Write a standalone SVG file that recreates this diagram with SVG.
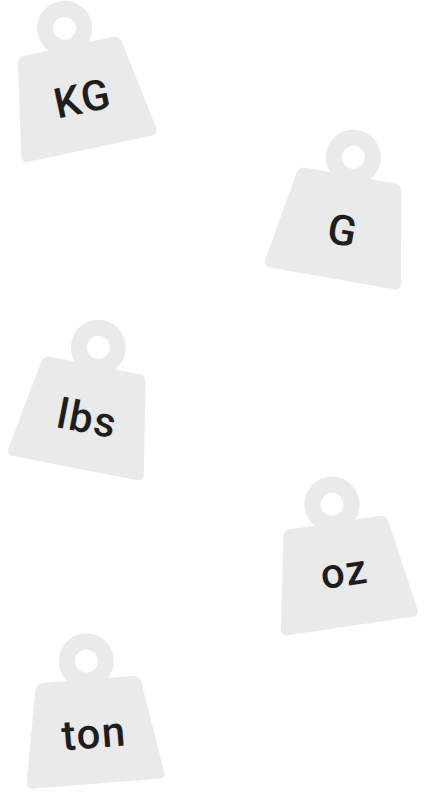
<svg xmlns="http://www.w3.org/2000/svg" width="430" height="802" viewBox="0 0 430 802">
<style>
.ring{fill:none;stroke:#eaeaea;stroke-width:16}
.body{fill:#eaeaea}
.lab{font-family:"Roboto","Liberation Sans",sans-serif;font-size:42px;font-weight:500;fill:#1e1e1e;text-anchor:middle;letter-spacing:1.5px}
</style>
<defs>
<g id="weight">
<circle class="ring" cx="0" cy="0" r="19.5"/>
<path class="body" d="M-45,18.5 L45,18.5 Q52,18.5 53.2,25.4 L68.9,116 Q70,123 63,123 L-63,123 Q-70,123 -68.9,116 L-53.2,25.4 Q-52,18.5 -45,18.5 Z"/>
</g>
</defs>
<rect width="430" height="802" fill="#ffffff"/>
<g id="node-kg">
<use href="#weight" transform="translate(64.6,28.3) rotate(-12)"/>
<text class="lab" transform="translate(82.5,98) rotate(-12)" y="15">KG</text>
</g>
<g id="node-g">
<use href="#weight" transform="translate(353.3,157.3) rotate(10)"/>
<text class="lab" transform="translate(343,230) rotate(10)" y="15">G</text>
</g>
<g id="node-lbs">
<use href="#weight" transform="translate(98.3,347.3) rotate(11)"/>
<text class="lab" transform="translate(87.5,418) rotate(11)" y="15">lbs</text>
</g>
<g id="node-oz">
<use href="#weight" transform="translate(332,504.3) rotate(-8.5)"/>
<text class="lab" transform="translate(344,571) rotate(-8.5)" y="15">oz</text>
</g>
<g id="node-ton">
<use href="#weight" transform="translate(86.3,661) rotate(-4.5)"/>
<text class="lab" transform="translate(94,733) rotate(-4.5)" y="15">ton</text>
</g>
</svg>
